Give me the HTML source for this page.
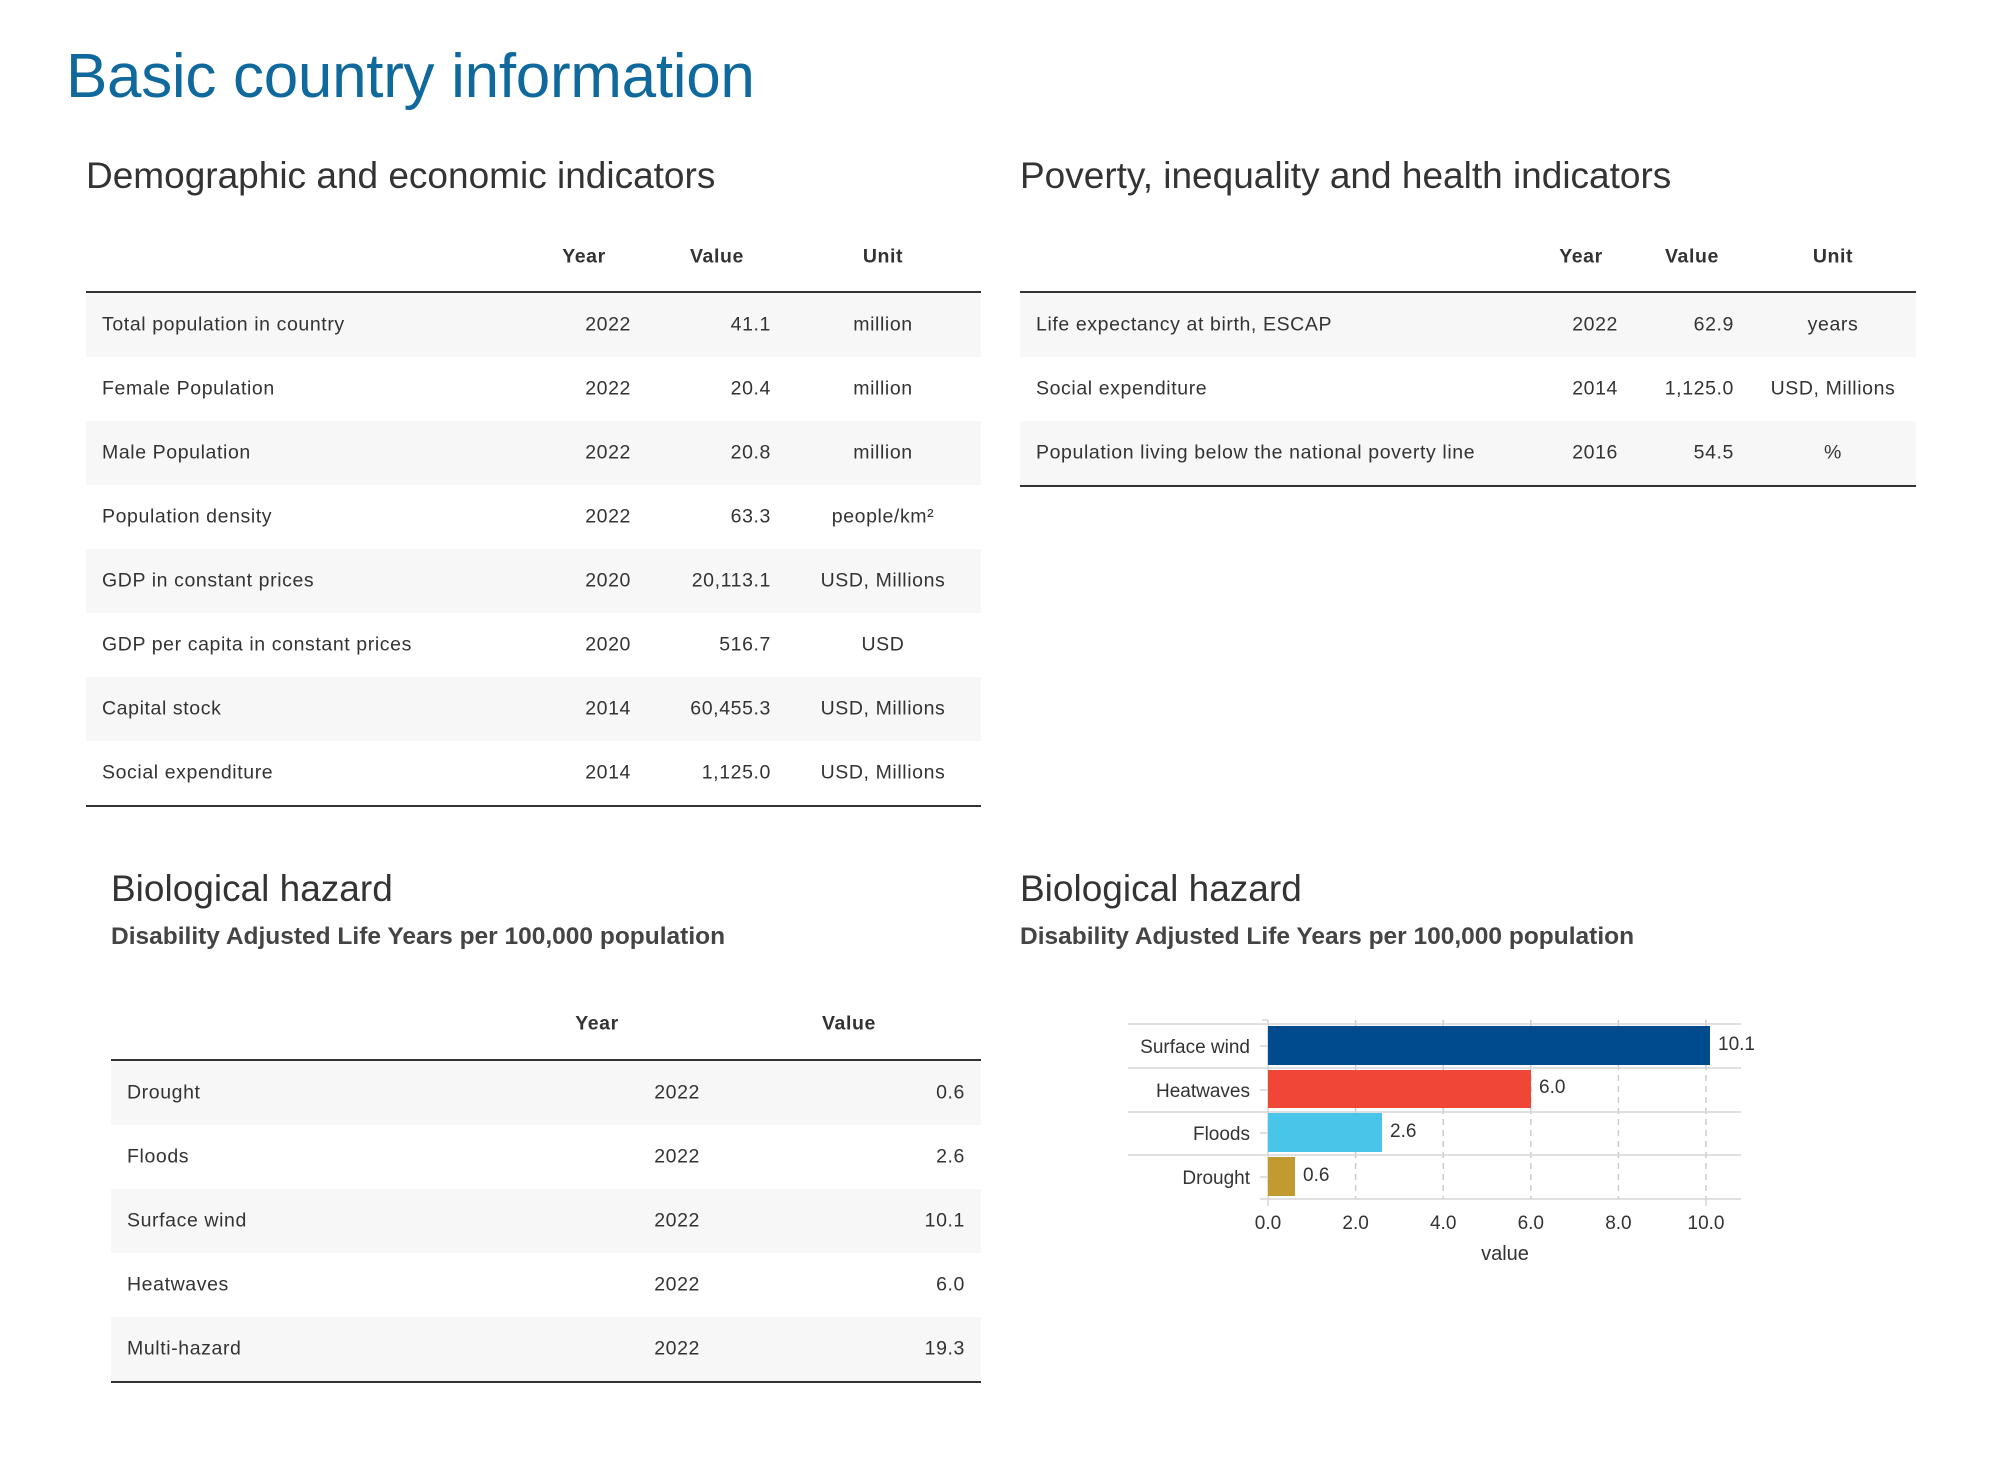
<!DOCTYPE html>
<html><head><meta charset="utf-8"><style>
*{margin:0;padding:0;box-sizing:border-box}
body{width:2004px;height:1470px;background:#fff;font-family:"Liberation Sans",sans-serif;color:#333;position:relative;overflow:hidden}
.a{position:absolute;white-space:nowrap}
h1{position:absolute;left:66px;top:41px;font-size:62px;font-weight:normal;color:#10699c;letter-spacing:-0.3px;white-space:nowrap}
.h2{position:absolute;font-size:37px;color:#333;white-space:nowrap}
.sub{position:absolute;font-size:24.5px;font-weight:bold;color:#444;white-space:nowrap}
.tbl{position:absolute}
.row{position:absolute;left:0;height:64px;width:100%;font-size:19.5px;letter-spacing:0.6px}
.row.s{background:#f7f7f7}
.row span,.hd span{position:absolute;top:50%;transform:translateY(-50%);white-space:nowrap}
.hd{position:absolute;left:0;width:100%;height:40px;font-size:19.5px;font-weight:bold;letter-spacing:0.6px}
.r{text-align:right}
.c{text-align:center}
.ln{position:absolute;left:0;width:100%;height:1.5px;background:#333}
</style></head><body>
<h1>Basic country information</h1>
<div class="h2" style="left:86px;top:155px">Demographic and economic indicators</div>
<div class="h2" style="left:1020px;top:155px">Poverty, inequality and health indicators</div>

<!-- Left table -->
<div class="tbl" style="left:86px;top:230px;width:895px;height:600px">
 <div class="hd" style="top:7px"><span style="left:453px;width:90px" class="c">Year</span><span style="left:581px;width:100px" class="c">Value</span><span style="left:747px;width:100px" class="c">Unit</span></div>
 <div class="ln" style="top:61px"></div>
 <div class="row s" style="top:63px"><span style="left:16px">Total population in country</span><span class="r" style="right:350px">2022</span><span class="r" style="right:210px">41.1</span><span class="c" style="left:717px;width:160px">million</span></div>
 <div class="row" style="top:127px"><span style="left:16px">Female Population</span><span class="r" style="right:350px">2022</span><span class="r" style="right:210px">20.4</span><span class="c" style="left:717px;width:160px">million</span></div>
 <div class="row s" style="top:191px"><span style="left:16px">Male Population</span><span class="r" style="right:350px">2022</span><span class="r" style="right:210px">20.8</span><span class="c" style="left:717px;width:160px">million</span></div>
 <div class="row" style="top:255px"><span style="left:16px">Population density</span><span class="r" style="right:350px">2022</span><span class="r" style="right:210px">63.3</span><span class="c" style="left:717px;width:160px">people/km²</span></div>
 <div class="row s" style="top:319px"><span style="left:16px">GDP in constant prices</span><span class="r" style="right:350px">2020</span><span class="r" style="right:210px">20,113.1</span><span class="c" style="left:717px;width:160px">USD, Millions</span></div>
 <div class="row" style="top:383px"><span style="left:16px">GDP per capita in constant prices</span><span class="r" style="right:350px">2020</span><span class="r" style="right:210px">516.7</span><span class="c" style="left:717px;width:160px">USD</span></div>
 <div class="row s" style="top:447px"><span style="left:16px">Capital stock</span><span class="r" style="right:350px">2014</span><span class="r" style="right:210px">60,455.3</span><span class="c" style="left:717px;width:160px">USD, Millions</span></div>
 <div class="row" style="top:511px"><span style="left:16px">Social expenditure</span><span class="r" style="right:350px">2014</span><span class="r" style="right:210px">1,125.0</span><span class="c" style="left:717px;width:160px">USD, Millions</span></div>
 <div class="ln" style="top:575px"></div>
</div>

<!-- Right table -->
<div class="tbl" style="left:1020px;top:230px;width:896px;height:300px">
 <div class="hd" style="top:7px"><span style="left:516px;width:90px" class="c">Year</span><span style="left:622px;width:100px" class="c">Value</span><span style="left:763px;width:100px" class="c">Unit</span></div>
 <div class="ln" style="top:61px"></div>
 <div class="row s" style="top:63px"><span style="left:16px">Life expectancy at birth, ESCAP</span><span class="r" style="right:298px">2022</span><span class="r" style="right:182px">62.9</span><span class="c" style="left:733px;width:160px">years</span></div>
 <div class="row" style="top:127px"><span style="left:16px">Social expenditure</span><span class="r" style="right:298px">2014</span><span class="r" style="right:182px">1,125.0</span><span class="c" style="left:733px;width:160px">USD, Millions</span></div>
 <div class="row s" style="top:191px"><span style="left:16px">Population living below the national poverty line</span><span class="r" style="right:298px">2016</span><span class="r" style="right:182px">54.5</span><span class="c" style="left:733px;width:160px">%</span></div>
 <div class="ln" style="top:255px"></div>
</div>

<div class="h2" style="left:111px;top:868px">Biological hazard</div>
<div class="sub" style="left:111px;top:923px">Disability Adjusted Life Years per 100,000 population</div>
<div class="h2" style="left:1020px;top:868px">Biological hazard</div>
<div class="sub" style="left:1020px;top:923px">Disability Adjusted Life Years per 100,000 population</div>

<!-- Bottom left table -->
<div class="tbl" style="left:111px;top:1000px;width:870px;height:400px">
 <div class="hd" style="top:4px"><span style="left:441px;width:90px" class="c">Year</span><span style="left:688px;width:100px" class="c">Value</span></div>
 <div class="ln" style="top:59px"></div>
 <div class="row s" style="top:61px"><span style="left:16px">Drought</span><span class="r" style="right:281px">2022</span><span class="r" style="right:16px">0.6</span></div>
 <div class="row" style="top:125px"><span style="left:16px">Floods</span><span class="r" style="right:281px">2022</span><span class="r" style="right:16px">2.6</span></div>
 <div class="row s" style="top:189px"><span style="left:16px">Surface wind</span><span class="r" style="right:281px">2022</span><span class="r" style="right:16px">10.1</span></div>
 <div class="row" style="top:253px"><span style="left:16px">Heatwaves</span><span class="r" style="right:281px">2022</span><span class="r" style="right:16px">6.0</span></div>
 <div class="row s" style="top:317px"><span style="left:16px">Multi-hazard</span><span class="r" style="right:281px">2022</span><span class="r" style="right:16px">19.3</span></div>
 <div class="ln" style="top:381px"></div>
</div>

<!-- Chart -->
<svg class="a" style="left:0;top:0" width="2004" height="1470" font-family="Liberation Sans, sans-serif" font-size="19" fill="#333">
 <g stroke="#ccc" stroke-width="1.5" stroke-dasharray="6,5">
  <line x1="1355.6" y1="1020" x2="1355.6" y2="1199"/>
  <line x1="1443.2" y1="1020" x2="1443.2" y2="1199"/>
  <line x1="1530.8" y1="1020" x2="1530.8" y2="1199"/>
  <line x1="1618.4" y1="1020" x2="1618.4" y2="1199"/>
  <line x1="1706" y1="1020" x2="1706" y2="1199"/>
 </g>
 <g stroke="#d6d6d6" stroke-width="1.5">
  <line x1="1128" y1="1024" x2="1741" y2="1024"/>
  <line x1="1128" y1="1068" x2="1741" y2="1068"/>
  <line x1="1128" y1="1112" x2="1741" y2="1112"/>
  <line x1="1128" y1="1155" x2="1741" y2="1155"/>
  <line x1="1260" y1="1199" x2="1741" y2="1199"/>
  <line x1="1268" y1="1020" x2="1268" y2="1206"/>
  <line x1="1262" y1="1020" x2="1268" y2="1020"/>
  <line x1="1260" y1="1046" x2="1268" y2="1046"/>
  <line x1="1260" y1="1090" x2="1268" y2="1090"/>
  <line x1="1260" y1="1133" x2="1268" y2="1133"/>
  <line x1="1260" y1="1177" x2="1268" y2="1177"/>
  <line x1="1706" y1="1199" x2="1706" y2="1206"/>
 </g>
 <rect x="1268" y="1026" width="442" height="39" fill="#004b8d"/>
 <rect x="1268" y="1070" width="263" height="38" fill="#ef4638"/>
 <rect x="1268" y="1113" width="114" height="39" fill="#48c5e8"/>
 <rect x="1268" y="1157" width="27" height="39" fill="#c19a30"/>
 <g text-anchor="end">
  <text x="1250" y="1053">Surface wind</text>
  <text x="1250" y="1097">Heatwaves</text>
  <text x="1250" y="1140">Floods</text>
  <text x="1250" y="1184">Drought</text>
 </g>
 <text x="1718" y="1050">10.1</text>
 <text x="1539" y="1093">6.0</text>
 <text x="1390" y="1137">2.6</text>
 <text x="1303" y="1181">0.6</text>
 <g text-anchor="middle">
  <text x="1268" y="1229">0.0</text>
  <text x="1355.6" y="1229">2.0</text>
  <text x="1443.2" y="1229">4.0</text>
  <text x="1530.8" y="1229">6.0</text>
  <text x="1618.4" y="1229">8.0</text>
  <text x="1706" y="1229">10.0</text>
  <text x="1505" y="1260" font-size="20">value</text>
 </g>
</svg>
</body></html>
